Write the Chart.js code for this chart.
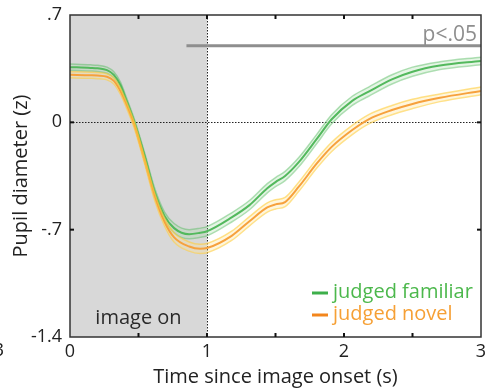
<!DOCTYPE html>
<html>
<head>
<meta charset="utf-8">
<script src="https://cdn.jsdelivr.net/npm/chart.js@4.4.1/dist/chart.umd.min.js"></script>
<style>
  html, body { margin: 0; padding: 0; background: #fff; }
  #wrap { width: 488px; height: 389px; }
</style>
</head>
<body>
<div id="wrap"><canvas id="pupilChart" width="488" height="389"></canvas></div>
<script>
/* pupil diameter time course, judged familiar vs judged novel */

const times       = [0, 0.15, 0.2, 0.27, 0.32, 0.37, 0.4, 0.47, 0.545, 0.62, 0.69, 0.76, 0.87, 0.95, 1.0, 1.18, 1.31, 1.44, 1.5, 1.57, 1.67, 1.8, 1.91, 2.06, 2.18, 2.35, 2.5, 2.7, 3.0];
const familiar    = [0.36, 0.355, 0.352, 0.34, 0.31, 0.24, 0.17, 0.0, -0.22, -0.46, -0.61, -0.69, -0.73, -0.72, -0.71, -0.62, -0.54, -0.43, -0.39, -0.35, -0.26, -0.11, 0.02, 0.14, 0.20, 0.28, 0.33, 0.37, 0.40];
const novel       = [0.31, 0.307, 0.305, 0.297, 0.27, 0.2, 0.14, -0.02, -0.25, -0.49, -0.65, -0.75, -0.81, -0.825, -0.82, -0.74, -0.645, -0.555, -0.535, -0.52, -0.42, -0.27, -0.16, -0.05, 0.02, 0.08, 0.12, 0.16, 0.205];
const familiarSE  = [0.02, 0.02, 0.02, 0.02, 0.02, 0.02, 0.02, 0.02, 0.02, 0.025, 0.025, 0.03, 0.03, 0.03, 0.03, 0.03, 0.03, 0.03, 0.03, 0.03, 0.03, 0.03, 0.03, 0.03, 0.03, 0.03, 0.03, 0.025, 0.025];
const novelSE     = [0.02, 0.02, 0.02, 0.02, 0.02, 0.02, 0.02, 0.02, 0.02, 0.025, 0.025, 0.03, 0.03, 0.03, 0.03, 0.03, 0.03, 0.03, 0.03, 0.03, 0.03, 0.03, 0.03, 0.03, 0.03, 0.03, 0.03, 0.025, 0.025];

const xTicks      = [0, 1, 2, 3];
const xMinorTicks = [0.5, 1, 1.5, 2, 2.5];
const yTicks      = [-1.4, -0.7, 0, 0.7];
const yTickLabels = ['-1.4', '-.7', '0', '.7'];
const stimulusWindow = [0, 1];
const sigWindow   = [0.85, 3];
const sigLevel    = 0.5;
const seriesNames = ['judged familiar', 'judged novel'];

const FONT = "'Open Sans', 'DejaVu Sans', sans-serif";
const GREEN = '#3daf4a', GREEN_BAND = 'rgba(80,185,90,0.45)', GREEN_FILL = 'rgba(150,215,150,0.25)';
const ORANGE = '#f3861c', ORANGE_BAND = 'rgba(255,205,60,0.6)', ORANGE_FILL = 'rgba(255,225,140,0.3)';

const pts = (vals) => times.map((t, i) => ({ x: t, y: vals[i] }));
const band = (vals, se, sign) => times.map((t, i) => ({ x: t, y: vals[i] + sign * se[i] }));

const lineOpts = { pointRadius: 0, tension: 0.4, cubicInterpolationMode: 'monotone' };

const overlay = {
  id: 'overlay',
  beforeDatasetsDraw(chart) {
    const { ctx, chartArea: a, scales: { x, y } } = chart;
    ctx.save();
    ctx.fillStyle = '#d8d8d8';
    const x0 = x.getPixelForValue(stimulusWindow[0]), x1 = x.getPixelForValue(stimulusWindow[1]);
    ctx.fillRect(x0, a.top, x1 - x0, a.bottom - a.top);
    // dotted reference lines
    ctx.strokeStyle = '#222'; ctx.lineWidth = 1; ctx.setLineDash([1.5, 1.5]);
    const yz = Math.round(y.getPixelForValue(0)) + 0.5;
    ctx.beginPath(); ctx.moveTo(a.left, yz); ctx.lineTo(a.right, yz); ctx.stroke();
    const xv = Math.round(x1) + 0.5;
    ctx.beginPath(); ctx.moveTo(xv, a.top); ctx.lineTo(xv, a.bottom); ctx.stroke();
    ctx.setLineDash([]);
    // significance bar
    ctx.strokeStyle = '#8e8e8e'; ctx.lineWidth = 3;
    const ys = y.getPixelForValue(sigLevel);
    ctx.beginPath(); ctx.moveTo(x.getPixelForValue(sigWindow[0]), ys); ctx.lineTo(x.getPixelForValue(sigWindow[1]), ys); ctx.stroke();
    ctx.fillStyle = '#8e8e8e'; ctx.font = '21px ' + FONT; ctx.textAlign = 'right'; ctx.textBaseline = 'alphabetic';
    ctx.fillText('p<.05', a.right - 4, ys - 5);
    // image on
    ctx.fillStyle = '#2a2a2a'; ctx.textAlign = 'center'; ctx.font = '20px ' + FONT;
    ctx.fillText('image on', (x0 + x1) / 2, a.bottom - 13);
    ctx.restore();
  },
  afterDraw(chart) {
    const { ctx, chartArea: a, scales: { x, y } } = chart;
    ctx.save();
    ctx.strokeStyle = '#333'; ctx.lineWidth = 1.5;
    ctx.strokeRect(a.left, a.top, a.right - a.left, a.bottom - a.top);
    ctx.strokeStyle = '#111'; ctx.lineWidth = 2;
    xMinorTicks.forEach(v => {
      const px = x.getPixelForValue(v);
      ctx.beginPath(); ctx.moveTo(px, a.top); ctx.lineTo(px, a.top + 4); ctx.stroke();
      ctx.beginPath(); ctx.moveTo(px, a.bottom); ctx.lineTo(px, a.bottom - 4); ctx.stroke();
    });
    [-0.7, 0].forEach(v => {
      const py = y.getPixelForValue(v);
      ctx.beginPath(); ctx.moveTo(a.left, py); ctx.lineTo(a.left + 4, py); ctx.stroke();
      ctx.beginPath(); ctx.moveTo(a.right, py); ctx.lineTo(a.right - 4, py); ctx.stroke();
    });
    // legend
    ctx.font = '20px ' + FONT; ctx.textAlign = 'left'; ctx.textBaseline = 'middle';
    [[GREEN, '#4cb84c', 292], [ORANGE, '#f6a035', 314]].forEach(([c, tc, yy], i) => {
      ctx.strokeStyle = c; ctx.lineWidth = 3;
      ctx.beginPath(); ctx.moveTo(312, yy + 1); ctx.lineTo(328, yy + 1); ctx.stroke();
      ctx.fillStyle = tc; ctx.fillText(seriesNames[i], 333, yy);
    });
    // cropped label fragment at the left edge
    ctx.fillStyle = '#222'; ctx.font = '18px ' + FONT; ctx.textAlign = 'right';
    ctx.fillText('3', 4, 351);
    ctx.restore();
  }
};

new Chart(document.getElementById('pupilChart').getContext('2d'), {
  type: 'line',
  data: { datasets: [
    { data: band(novel, novelSE, 1), borderColor: ORANGE_BAND, borderWidth: 1.5, backgroundColor: ORANGE_FILL, fill: '+1', ...lineOpts },
    { data: band(novel, novelSE, -1), borderColor: ORANGE_BAND, borderWidth: 1.5, fill: false, ...lineOpts },
    { data: pts(novel), borderColor: ORANGE, borderWidth: 2, fill: false, ...lineOpts },
    { data: band(familiar, familiarSE, 1), borderColor: GREEN_BAND, borderWidth: 1.5, backgroundColor: GREEN_FILL, fill: '+1', ...lineOpts },
    { data: band(familiar, familiarSE, -1), borderColor: GREEN_BAND, borderWidth: 1.5, fill: false, ...lineOpts },
    { data: pts(familiar), borderColor: GREEN, borderWidth: 2, fill: false, ...lineOpts },
  ]},
  options: {
    responsive: false, animation: false,
    layout: { padding: { top: 15, right: 7, left: 6, bottom: 0 } },
    plugins: { legend: { display: false }, tooltip: { enabled: false } },
    scales: {
      x: {
        type: 'linear', min: 0, max: 3,
        afterBuildTicks: s => { s.ticks = xTicks.map(v => ({ value: v })); },
        afterFit: s => { s.height = 52; s.paddingLeft = 0; s.paddingRight = 0; },
        grid: { display: false, drawTicks: false }, border: { display: false },
        ticks: { color: '#222', font: { family: FONT, size: 18 }, padding: 4, maxRotation: 0 },
        title: { display: true, text: 'Time since image onset (s)', color: '#222', font: { family: FONT, size: 20 }, padding: { top: 0, bottom: 0 } }
      },
      y: {
        type: 'linear', min: -1.4, max: 0.7,
        afterBuildTicks: s => { s.ticks = yTicks.map(v => ({ value: v })); },
        afterFit: s => { s.width = 64; s.paddingTop = 0; s.paddingBottom = 0; },
        grid: { display: false, drawTicks: false }, border: { display: false },
        ticks: { color: '#222', font: { family: FONT, size: 18 }, padding: 8, callback: (v) => yTickLabels[yTicks.indexOf(v)] },
        title: { display: true, text: 'Pupil diameter (z)', color: '#222', font: { family: FONT, size: 20 }, padding: { top: 3, bottom: 0 } }
      }
    }
  },
  plugins: [overlay]
});
</script>
</body>
</html>
